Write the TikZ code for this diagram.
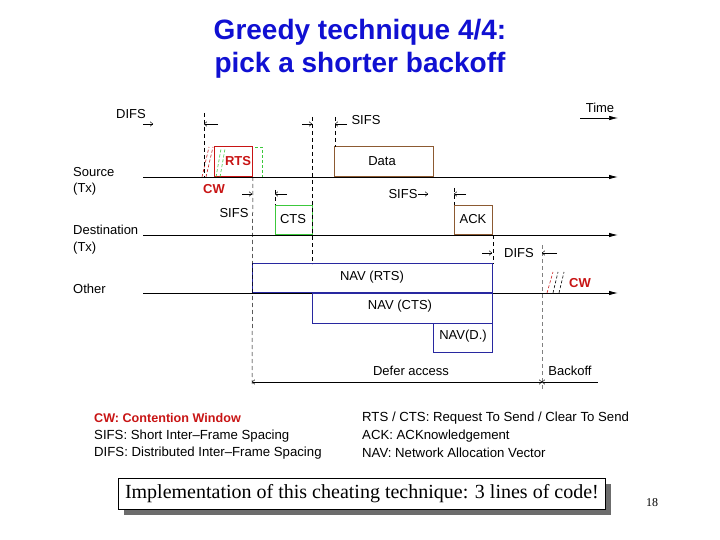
\documentclass[tikz,border=0pt]{standalone}
\usepackage{fontspec}
\setmainfont{Liberation Sans}
\newfontfamily\tnr{Liberation Serif}
\usetikzlibrary{arrows.meta}
\definecolor{ttlblue}{RGB}{16,16,210}
\definecolor{cwred}{RGB}{200,20,20}
\definecolor{ctsgreen}{RGB}{60,200,60}
\definecolor{brownbox}{RGB}{140,90,50}
\definecolor{navblue}{RGB}{40,40,160}
\tikzset{
  lbl/.style={inner sep=0pt, font=\fontsize{13}{15}\selectfont},
  lgd/.style={inner sep=0pt, anchor=west, font=\fontsize{13.2}{15}\selectfont},
  axis/.style={line width=0.9pt, -{Latex[length=9pt,width=4.5pt]}},
  tick/.style={line width=0.5pt, -{To[length=3pt,width=5pt]}},
  vdash/.style={line width=0.5pt, dash pattern=on 4pt off 3pt},
  frame/.style={draw, line width=0.9pt, inner sep=0pt, anchor=south west},
  cwdash/.style={line width=0.6pt, dash pattern=on 3pt off 2pt},
}
\begin{document}
\begin{tikzpicture}[x=1pt,y=-1pt]
\useasboundingbox (0,0) rectangle (720,540);
% title
\node[inner sep=0pt, text=ttlblue, font=\bfseries\fontsize{28}{30}\selectfont] (t1) at (360,32) {Greedy technique 4/4:};
\node[inner sep=0pt, text=ttlblue, font=\bfseries\fontsize{28}{30}\selectfont] (t2) at (360,65) {pick a shorter backoff};

% axes
\coordinate (s0) at (143,177); \coordinate (s1) at (618,177);
\coordinate (d0) at (143,235); \coordinate (d1) at (618,235);
\coordinate (o0) at (143,293); \coordinate (o1) at (618,293);
\draw[axis] (s0) -- (s1);
\draw[axis] (d0) -- (d1);
\draw[axis] (o0) -- (o1);
\coordinate (tm0) at (580,118); \coordinate (tm1) at (618,118);
\draw[axis, line width=0.6pt] (tm0) -- (tm1);
\node[lbl] (time) at (600,108) {Time};

% row labels
\node[lbl, anchor=west] (src) at (73,172) {Source};
\node[lbl, anchor=west] (srctx) at (73,189) {(Tx)};
\node[lbl, anchor=west] (dst) at (73,230) {Destination};
\node[lbl, anchor=west] (dsttx) at (73,248) {(Tx)};
\node[lbl, anchor=west] (oth) at (73,289) {Other};

% boxes
\node[frame, draw=cwred, minimum width=38pt, minimum height=30pt] (rts) at (214,177) {};
\node[lbl, text=cwred, font=\bfseries\fontsize{13}{15}\selectfont] (rtst) at (238,161) {RTS};
\node[frame, draw=brownbox, minimum width=99pt, minimum height=30pt] (data) at (334,177) {};
\node[lbl] (datat) at (382,161) {Data};
\node[frame, draw=ctsgreen, minimum width=37pt, minimum height=29pt] (cts) at (275,235) {};
\node[lbl] (ctst) at (293,219) {CTS};
\node[frame, draw=brownbox, minimum width=38pt, minimum height=29pt] (ack) at (454,235) {};
\node[lbl] (ackt) at (473,219) {ACK};
\node[frame, draw=navblue, minimum width=240pt, minimum height=29pt] (navr) at (252,293) {};
\node[lbl] (navrt) at (372,277) {NAV (RTS)};
\node[frame, draw=navblue, anchor=north west, minimum width=180pt, minimum height=30pt] (navc) at (312,293) {};
\node[lbl] (navct) at (400,306) {NAV (CTS)};
\node[frame, draw=navblue, anchor=north west, minimum width=59pt, minimum height=29pt] (navd) at (433,323) {};
\node[lbl] (navdt) at (463,336) {NAV(D.)};

% CW at source
\draw[cwdash, cwred] (202,177) -- (209,147);
\draw[cwdash, cwred] (206,177) -- (213,147);
\draw[cwdash, ctsgreen] (216,177) -- (221,149);
\draw[cwdash, ctsgreen] (220,177) -- (225,149);
\draw[cwdash, ctsgreen] (255,147) -- (263,147);
\draw[cwdash, ctsgreen] (262,150) -- (262,177);
\node[lbl, text=cwred, font=\bfseries\fontsize{13}{15}\selectfont] (cw1) at (214,189) {CW};

% CW at other
\draw[cwdash, cwred] (547,293) -- (553,272);
\draw[cwdash] (553,293) -- (558,272);
\draw[cwdash] (559,293) -- (564,272);
\node[lbl, text=cwred, font=\bfseries\fontsize{13}{15}\selectfont] (cw2) at (580,283) {CW};

% vertical dashed guides
\draw[vdash] (204,113) -- (204,177);
\draw[vdash] (312,117) -- (312,264);
\draw[vdash] (335,117) -- (335,147);
\draw[vdash] (rts.south east) -- (252,387);
\draw[vdash] (275,190) -- (cts.north west);
\draw[vdash] (454,188) -- (ack.north west);
\draw[vdash] (ack.south east) -- (navr.north east);
\draw[vdash, gray] (542,245) -- (542,390);

% interval markers
\node[lbl] (difs1) at (131,114) {DIFS};
\draw[tick] (143,124) -- (153,124);
\draw[tick] (218,124) -- (204,124);
\draw[tick] (302,124) -- (312,124);
\draw[tick] (347,124) -- (335,124);
\node[lbl] (sifs1) at (366,120) {SIFS};
\node[lbl] (sifs2) at (234,213) {SIFS};
\draw[tick] (242,194) -- (252,194);
\draw[tick] (287,194) -- (275,194);
\node[lbl] (sifs3) at (403,194) {SIFS};
\draw[tick] (418,194) -- (428,194);
\draw[tick] (466,194) -- (454,194);
\draw[tick] (482,253) -- (492,253);
\node[lbl] (difs2) at (519,253) {DIFS};
\draw[tick] (557,253) -- (542,253);

% defer / backoff
\coordinate (df0) at (252,382); \coordinate (df1) at (542,382); \coordinate (bk1) at (598,382);
\draw[line width=0.5pt, {To[length=3pt,width=5pt]}-{To[length=3pt,width=5pt]}] (df0) -- (df1);
\draw[line width=0.5pt, {To[length=3pt,width=5pt]}-] (df1) -- (bk1);
\node[lbl] (defer) at (411,371) {Defer access};
\node[lbl] (bkoff) at (570,371) {Backoff};

% legend
\node[lgd, text=cwred, font=\bfseries\fontsize{12.6}{15}\selectfont] (l1) at (94,418) {CW: Contention Window};
\node[lgd] (l2) at (94,436) {SIFS: Short Inter{\textendash}Frame Spacing};
\node[lgd] (l3) at (94,453) {DIFS: Distributed Inter{\textendash}Frame Spacing};
\node[lgd] (r1) at (362,418) {RTS / CTS: Request To Send / Clear To Send};
\node[lgd] (r2) at (362,436) {ACK: ACKnowledgement};
\node[lgd] (r3) at (362,453) {NAV: Network Allocation Vector};

% bottom box
\fill[gray!85!black] (124,484) rectangle (611,515);
\node[draw, fill=white, line width=0.8pt, minimum width=487pt, minimum height=31pt, inner sep=0pt, anchor=north west, font=\tnr\fontsize{20}{22}\selectfont] (impl) at (118,478) {Implementation of this cheating technique: 3 lines of code!};
\node[inner sep=0pt, font=\tnr\fontsize{12}{14}\selectfont] (pg) at (652,503) {18};
\end{tikzpicture}
\end{document}
